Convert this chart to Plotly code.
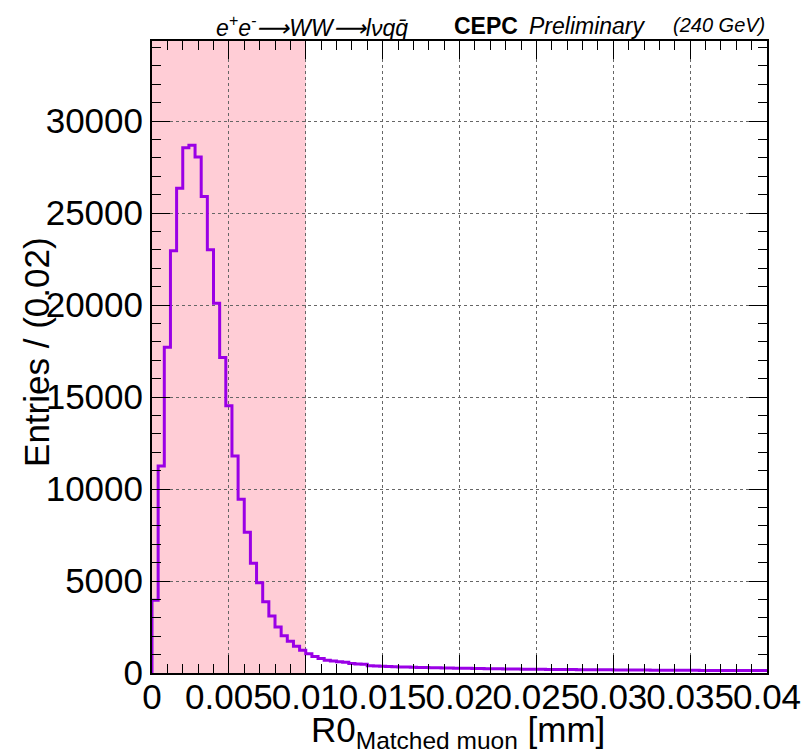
import numpy as np
import plotly.graph_objects as go

# ---------------- data ----------------
x_min, x_max, n_bins = 0.0, 0.04, 100
counts = [
    3950, 11250, 17700, 22950, 26350, 28550, 28680, 28050, 25900, 23000,
    20100, 17150, 14520, 11800, 9450, 7650, 5970, 4900, 3870, 3100,
    2500, 2030, 1730, 1460, 1240, 1040, 900, 790, 690, 650,
    610, 590, 520, 490, 470, 400, 380, 365, 350, 340,
    330, 320, 312, 305, 298, 290, 282, 276, 268, 262,
    258, 252, 246, 240, 236, 231, 226, 222, 218, 214,
    210, 207, 204, 200, 197, 194, 191, 188, 185, 182,
    180, 177, 175, 172, 170, 168, 166, 163, 161, 159,
    157, 155, 153, 151, 150, 148, 146, 145, 143, 142,
    140, 139, 138, 136, 135, 134, 133, 132, 131, 130,
]
signal_region = [0.0, 0.01]
x_tick_vals = [0, 0.005, 0.01, 0.015, 0.02, 0.025, 0.03, 0.035, 0.04]
x_tick_text = ["0", "0.005", "0.01", "0.015", "0.02", "0.025", "0.03", "0.035", "0.04"]
y_tick_vals = [0, 5000, 10000, 15000, 20000, 25000, 30000]
y_tick_text = ["0", "5000", "10000", "15000", "20000", "25000", "30000"]
y_max = 34350

# ---------------- figure ----------------
edges = np.linspace(x_min, x_max, n_bins + 1)
xs = [x_min] + list(edges[:-1]) + [x_max]
ys = [0] + counts + [counts[-1]]

FONT = "Liberation Sans, Arial, Helvetica, sans-serif"
LINE = "#9A00E6"
PINK = "#FFCDD6"

fig = go.Figure()
fig.add_trace(go.Scatter(
    x=xs, y=ys, mode="lines", line=dict(color=LINE, width=3, shape="hv"),
    showlegend=False, hoverinfo="skip"))

fig.add_shape(type="rect", xref="x", yref="paper",
              x0=signal_region[0], x1=signal_region[1], y0=0, y1=1,
              fillcolor=PINK, line=dict(width=0), layer="below")

axis_common = dict(
    showline=True, linecolor="black", linewidth=2, mirror="allticks",
    ticks="inside", ticklen=18, tickwidth=1, tickcolor="black",
    showgrid=True, gridcolor="#666666", griddash="dot", gridwidth=1,
    zeroline=False, tickfont=dict(family=FONT, size=35, color="black"),
)

fig.update_xaxes(
    **axis_common, range=[x_min, x_max], tickmode="array",
    tickvals=x_tick_vals, ticktext=x_tick_text, tickangle=0, ticklabelstandoff=-8,
    minor=dict(ticks="inside", ticklen=9, dtick=0.001, tickcolor="black", showgrid=False),
)
fig.update_yaxes(
    **axis_common, range=[0, y_max], tickmode="array",
    tickvals=y_tick_vals, ticktext=y_tick_text,
    minor=dict(ticks="inside", ticklen=9, dtick=1000, tickcolor="black", showgrid=False),
)

# axis titles (placed as annotations to match ROOT positions)
fig.add_annotation(xref="paper", yref="paper", x=0.497, y=-0.093, xanchor="center", yanchor="middle",
                   text="R0<sub>Matched muon</sub> [mm]", showarrow=False,
                   font=dict(family=FONT, size=35, color="black"))
fig.add_annotation(xref="paper", yref="paper", x=-0.187, y=0.508, xanchor="center", yanchor="middle",
                   text="Entries / (0.02)", showarrow=False, textangle=-90,
                   font=dict(family=FONT, size=35, color="black"))

ann_y = 1.023
fig.add_annotation(xref="paper", yref="paper", x=0.100, y=ann_y, xanchor="left", yanchor="middle",
                   text="<i>e<sup>+</sup>e<sup>-</sup>⟶WW⟶lνqq̄</i>", showarrow=False,
                   font=dict(family=FONT, size=23, color="black"))
fig.add_annotation(xref="paper", yref="paper", x=0.487, y=ann_y, xanchor="left", yanchor="middle",
                   text="<b>CEPC</b>", showarrow=False,
                   font=dict(family=FONT, size=23, color="black"))
fig.add_annotation(xref="paper", yref="paper", x=0.610, y=ann_y, xanchor="left", yanchor="middle",
                   text="<i>Preliminary</i>", showarrow=False,
                   font=dict(family=FONT, size=23, color="black"))
fig.add_annotation(xref="paper", yref="paper", x=1.0, y=ann_y + 0.003, xanchor="right", yanchor="middle",
                   text="<i>(240 GeV)</i>", showarrow=False,
                   font=dict(family=FONT, size=20, color="black"))

fig.update_layout(
    width=805, height=756,
    margin=dict(l=152, r=38, t=41, b=83, autoexpand=False),
    paper_bgcolor="white", plot_bgcolor="white",
    font=dict(family=FONT, color="black"),
)

fig.write_html("out.html")
